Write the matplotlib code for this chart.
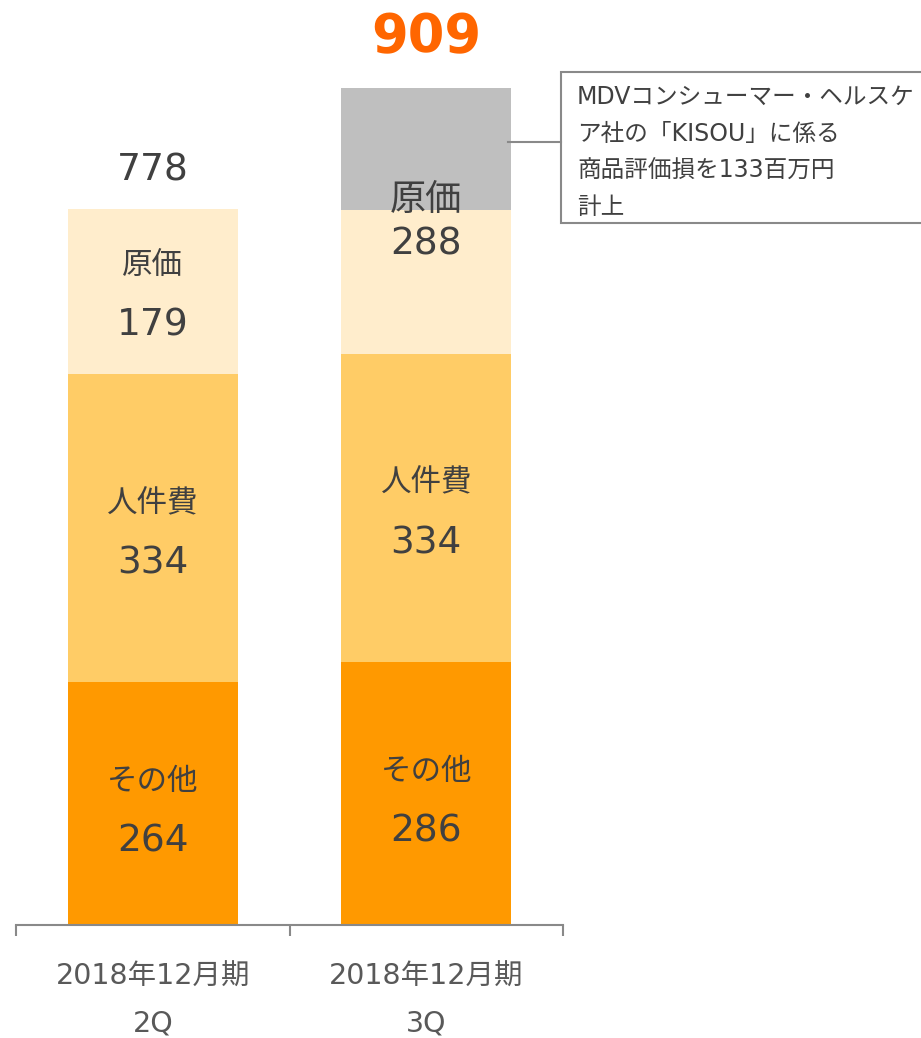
import matplotlib
matplotlib.use("Agg")
import matplotlib.pyplot as plt
from matplotlib.patches import Rectangle
from matplotlib.lines import Line2D

FAM = ['DejaVu Sans', 'Noto Sans CJK JP']
plt.rcParams['font.family'] = FAM

# ---- data ----
periods = ['2018年12月期', '2018年12月期']
quarters = ['2Q', '3Q']
other = [264, 286]          # その他
personnel = [334, 334]      # 人件費
cost_base = [179, 156]      # 原価 (excluding impairment)
impairment = [0, 133]       # 商品評価損
cost_label = [179, 288]     # 原価 label values
totals = [778, 909]
seg_names = ['その他', '人件費', '原価']
note_lines = ['MDVコンシューマー・ヘルスケ', 'ア社の「KISOU」に係る',
              '商品評価損を133百万円', '計上']

# ---- style ----
C_OTHER = '#FF9900'
C_PERS = '#FFCC66'
C_COST = '#FFEDCC'
C_IMP = '#BFBFBF'
TXT = '#404040'
AX_C = '#898989'

W, H = 921, 1038
fig = plt.figure(figsize=(W / 100, H / 100), dpi=100)
base_px = 925
ax = fig.add_axes([16 / W, (H - base_px) / H, 547 / W, base_px / H])
ax.set_xlim(-0.5, 1.5)
ax.set_ylim(0, base_px / 0.921)

x = [0, 1]
bw = 0.62
ax.bar(x, other, bw, color=C_OTHER, linewidth=0)
ax.bar(x, personnel, bw, bottom=other, color=C_PERS, linewidth=0)
bot3 = [o + p for o, p in zip(other, personnel)]
ax.bar(x, cost_base, bw, bottom=bot3, color=C_COST, linewidth=0)
bot4 = [b + c for b, c in zip(bot3, cost_base)]
ax.bar(x, impairment, bw, bottom=bot4, color=C_IMP, linewidth=0)

# spines / ticks
for s in ['left', 'top', 'right']:
    ax.spines[s].set_visible(False)
ax.spines['bottom'].set_color(AX_C)
ax.spines['bottom'].set_linewidth(1.5)
ax.set_yticks([])
ax.set_xticks([-0.5, 0.5, 1.5])
ax.set_xticklabels([])
ax.tick_params(axis='x', direction='out', length=8, width=1.5, color=AX_C)


def pair(xc, yc, name, val, off_n=21.6, off_v=21.6, fs_n=22, fs_v=27, shift=-4.0):
    ax.annotate(name, (xc, yc), xytext=(0, off_n + shift), textcoords='offset points',
                ha='center', va='center', fontsize=fs_n, color=TXT)
    ax.annotate(str(val), (xc, yc), xytext=(0, -off_v + shift), textcoords='offset points',
                ha='center', va='center', fontsize=fs_v, color=TXT)


for i in x:
    pair(i, other[i] / 2, seg_names[0], other[i], shift=-6.0)
    pair(i, other[i] + personnel[i] / 2, seg_names[1], personnel[i], shift=-4.0)
# 原価 labels
pair(0, bot3[0] + cost_base[0] / 2, seg_names[2], cost_label[0], shift=-2.5)
c2 = bot3[1] + (cost_base[1] + impairment[1]) / 2
pair(1, c2, seg_names[2], cost_label[1], off_n=16.5, off_v=15.5, fs_n=26, shift=-1.5)

# totals
ax.annotate(str(totals[0]), (0, totals[0]), xytext=(0, 27.5), textcoords='offset points',
            ha='center', va='center', fontsize=27, color=TXT)
ax.annotate(str(totals[1]), (1, totals[1]), xytext=(0, 36.0), textcoords='offset points',
            ha='center', va='center', fontsize=38, color='#FF6600', fontweight='bold')

# category labels
for i in x:
    ax.annotate(periods[i], (i, 0), xycoords=('data', 'axes fraction'),
                xytext=(0, -37.5), textcoords='offset points',
                ha='center', va='center', fontsize=20.5, color='#595959')
    ax.annotate(quarters[i], (i, 0), xycoords=('data', 'axes fraction'),
                xytext=(0, -71.0), textcoords='offset points',
                ha='center', va='center', fontsize=20.5, color='#595959')

# note box
box = Rectangle((561 / W, 1 - 223 / H), (940 - 561) / W, (223 - 72) / H,
                transform=fig.transFigure, facecolor='white', edgecolor=AX_C,
                linewidth=1.5, clip_on=False)
fig.add_artist(box)
fig.add_artist(Line2D([508 / W, 561 / W], [1 - 142 / H, 1 - 142 / H],
                      transform=fig.transFigure, color=AX_C, linewidth=1.5))
for line, yc in zip(note_lines, [97, 134, 171, 207]):
    fig.text(577 / W, 1 - yc / H, line, ha='left', va='center', fontsize=17, color=TXT)

fig.savefig('out.png', dpi=100)
